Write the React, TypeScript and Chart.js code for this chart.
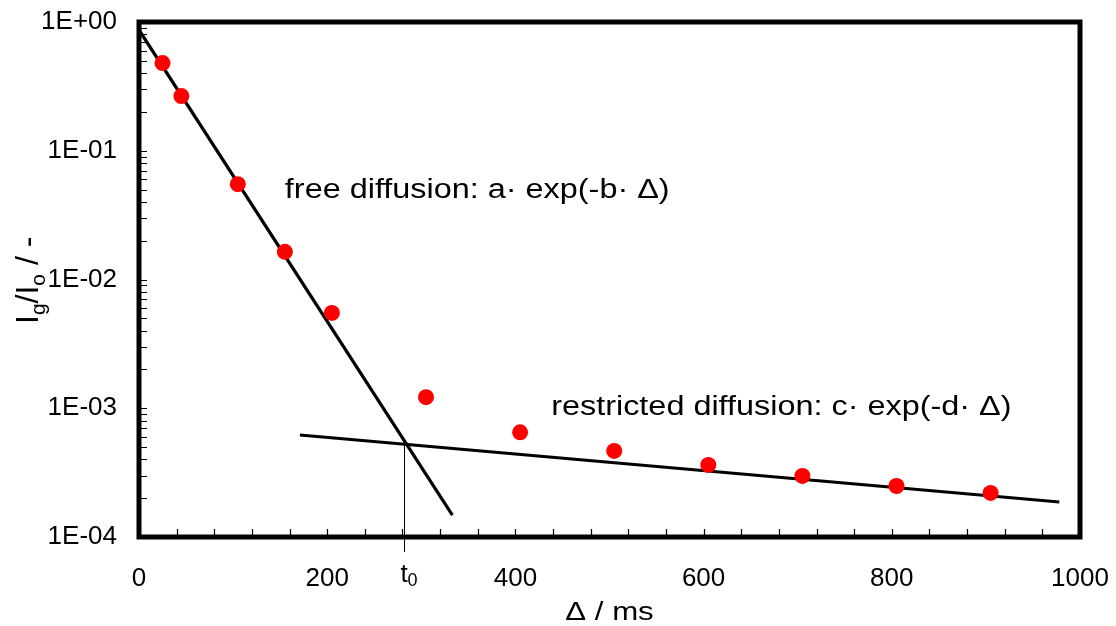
import React, { useEffect, useRef } from "react";
import { Chart, registerables } from "chart.js";

Chart.register(...registerables);

// Measured data (Δ in ms, Ig/Io)
const delta = [25, 45, 105, 155, 205, 305, 405, 505, 605, 705, 805, 905];
const ratio = [0.48, 0.266, 0.055, 0.0164, 0.0055, 0.00122, 0.00065, 0.000466, 0.000363, 0.000298, 0.000249, 0.00022];

// Fitted lines
const freeFitX = [0, 333];
const freeFitY = [0.867, 0.000148];
const restrictedFitX = [171, 978];
const restrictedFitY = [0.00062, 0.000187];

// t0 marker
const t0Value = 282;
const t0Level = 0.00054;

// Axes
const xMin = 0;
const xMax = 1000;
const xStep = 200;
const xMinorStep = 40;
const yMin = 1e-4;
const yMax = 1;
const yTickValues = [1e-4, 1e-3, 1e-2, 1e-1, 1];
const yTickLabels = ["1E-04", "1E-03", "1E-02", "1E-01", "1E+00"];

const freeLabel = "free diffusion: a\u00B7 exp(-b\u00B7 \u0394)";
const restrictedLabel = "restricted diffusion: c\u00B7 exp(-d\u00B7 \u0394)";
const xTitle = "\u0394 / ms";

const FONT = "Arial, 'Liberation Sans', sans-serif";

const decor = {
  id: "decor",
  afterDatasetsDraw(chart: any) {
    const { ctx, chartArea: a, scales } = chart;
    const x = scales.x;
    const y = scales.y;
    ctx.save();
    ctx.strokeStyle = "#000";
    ctx.fillStyle = "#000";

    // inward minor ticks
    ctx.lineWidth = 1.2;
    ctx.beginPath();
    for (let v = xMin + xMinorStep; v < xMax; v += xMinorStep) {
      const px = Math.round(x.getPixelForValue(v)) + 0.5;
      ctx.moveTo(px, a.bottom);
      ctx.lineTo(px, a.bottom - 8);
    }
    for (let e = -4; e < 0; e++) {
      for (let k = 1; k < 10; k++) {
        const py = Math.round(y.getPixelForValue(k * Math.pow(10, e))) + 0.5;
        ctx.moveTo(a.left, py);
        ctx.lineTo(a.left + 8, py);
      }
    }
    ctx.stroke();

    // t0 vertical line
    const tx = Math.round(x.getPixelForValue(t0Value)) + 0.5;
    ctx.lineWidth = 1;
    ctx.beginPath();
    ctx.moveTo(tx, y.getPixelForValue(t0Level));
    ctx.lineTo(tx, a.bottom + 15);
    ctx.stroke();

    // frame
    ctx.lineWidth = 5;
    ctx.strokeRect(a.left, a.top, a.right - a.left, a.bottom - a.top);

    // t0 label
    ctx.textBaseline = "alphabetic";
    ctx.textAlign = "left";
    ctx.font = `26px ${FONT}`;
    ctx.fillText("t", tx - 4, a.bottom + 45);
    ctx.font = `18px ${FONT}`;
    ctx.fillText("0", tx + 3, a.bottom + 49);

    // annotations (slightly wide lettering, as in the original)
    const stretch = 1.2;
    const drawWide = (text: string, px: number, py: number, size: number, align: string) => {
      ctx.save();
      ctx.font = `${size}px ${FONT}`;
      ctx.textAlign = align;
      ctx.translate(px, py);
      ctx.scale(stretch, 1);
      ctx.fillText(text, 0, 0);
      ctx.restore();
    };
    drawWide(freeLabel, x.getPixelForValue(155), y.getPixelForValue(0.043), 27, "left");
    drawWide(restrictedLabel, x.getPixelForValue(438), y.getPixelForValue(0.00088), 27, "left");
    drawWide(xTitle, (a.left + a.right) / 2, a.bottom + 83, 26, "center");

    // y title with subscripts, rotated
    ctx.save();
    ctx.translate(38, 324);
    ctx.rotate(-Math.PI / 2);
    ctx.textAlign = "left";
    let cx = 0;
    const part = (t: string, size: number, dy: number) => {
      ctx.font = `${size}px ${FONT}`;
      ctx.fillText(t, cx, dy);
      cx += ctx.measureText(t).width;
    };
    part("I", 32, 0);
    part("g", 21, 7);
    part("/I", 32, 0);
    part("o", 21, 7);
    part(" / -", 32, 0);
    ctx.restore();

    ctx.restore();
  },
};

const noPad = (s: any) => {
  s.paddingTop = 0;
  s.paddingBottom = 0;
  s.paddingLeft = 0;
  s.paddingRight = 0;
};

export default function App() {
  const ref = useRef<HTMLCanvasElement>(null);

  useEffect(() => {
    if (!ref.current) return;
    const chart = new Chart(ref.current, {
      type: "scatter",
      data: {
        datasets: [
          {
            label: "free fit",
            data: freeFitX.map((v, i) => ({ x: v, y: freeFitY[i] })),
            showLine: true,
            borderColor: "#000",
            borderWidth: 3.2,
            pointRadius: 0,
            order: 2,
          },
          {
            label: "restricted fit",
            data: restrictedFitX.map((v, i) => ({ x: v, y: restrictedFitY[i] })),
            showLine: true,
            borderColor: "#000",
            borderWidth: 3.2,
            pointRadius: 0,
            order: 2,
          },
          {
            label: "data",
            data: delta.map((v, i) => ({ x: v, y: ratio[i] })),
            backgroundColor: "#ff0000",
            borderWidth: 0,
            pointRadius: 8,
            order: 1,
          },
        ],
      },
      options: {
        responsive: false,
        animation: false,
        devicePixelRatio: 1,
        layout: { padding: { top: 22, right: 36, left: 0, bottom: 0 } },
        plugins: { legend: { display: false }, tooltip: { enabled: false } },
        scales: {
          x: {
            type: "linear",
            min: xMin,
            max: xMax,
            grid: { display: false, drawTicks: false, tickLength: 0 },
            border: { display: false },
            ticks: {
              stepSize: xStep,
              color: "#000",
              font: { family: FONT, size: 26 },
              padding: 26,
              maxRotation: 0,
              callback: (v: any) => String(v),
            },
            afterFit: (s: any) => {
              s.height = 89;
              noPad(s);
            },
          },
          y: {
            type: "logarithmic",
            min: yMin,
            max: yMax,
            grid: { display: false, drawTicks: false, tickLength: 0 },
            border: { display: false },
            afterBuildTicks: (s: any) => {
              s.ticks = yTickValues.map((v) => ({ value: v }));
            },
            ticks: {
              color: "#000",
              font: { family: FONT, size: 26 },
              padding: 22,
              callback: (v: any) => {
                const i = yTickValues.findIndex((t) => Math.abs(Math.log10(t) - Math.log10(v)) < 1e-6);
                return i >= 0 ? yTickLabels[i] : "";
              },
            },
            afterFit: (s: any) => {
              s.width = 139;
              noPad(s);
            },
          },
        },
      },
      plugins: [decor],
    });
    return () => chart.destroy();
  }, []);

  return (
    <div style={{ position: "absolute", left: 0, top: 0, width: 1116, height: 626, background: "#fff" }}>
      <canvas ref={ref} width={1116} height={626} style={{ display: "block" }} />
    </div>
  );
}
